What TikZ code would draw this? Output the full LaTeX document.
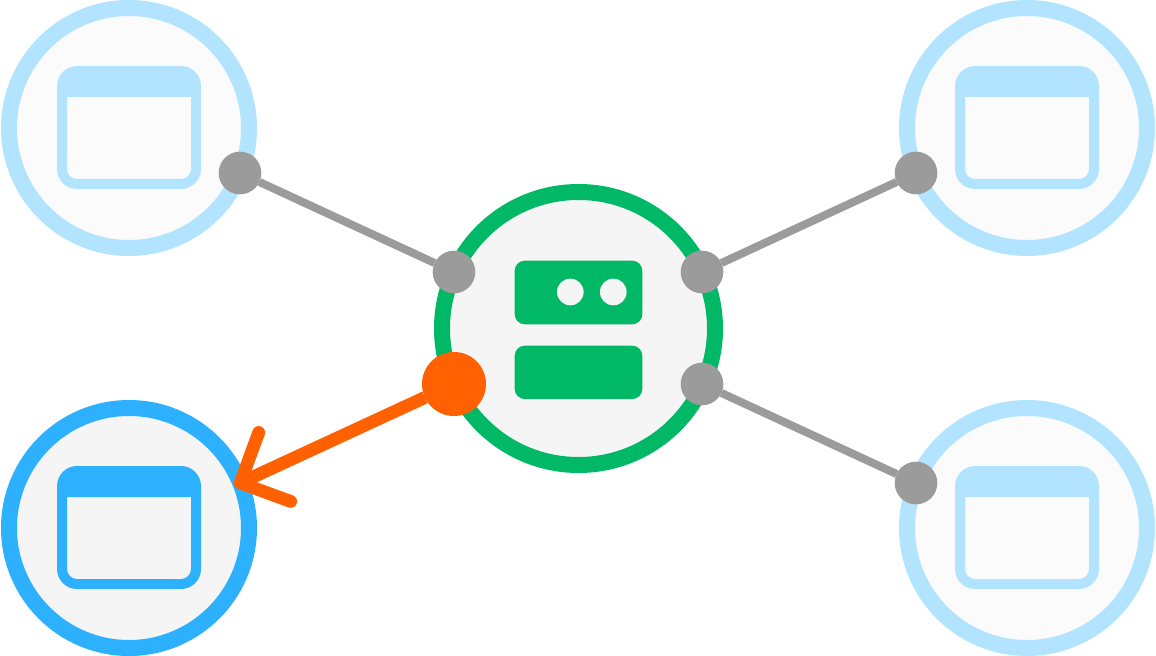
\documentclass[tikz,border=0pt]{standalone}
\usetikzlibrary{arrows.meta}
\definecolor{paleblue}{HTML}{B3E4FF}
\definecolor{paper}{HTML}{FBFBFC}
\definecolor{clientblue}{HTML}{2DB1FF}
\definecolor{soft}{HTML}{F5F5F5}
\definecolor{servergreen}{HTML}{00B865}
\definecolor{hot}{HTML}{FF6000}
\definecolor{link}{HTML}{9B9B9B}
\pgfdeclarelayer{rings}
\pgfdeclarelayer{links}
\pgfsetlayers{rings,links,main}
\tikzset{
  x=0.75pt,y=-0.75pt,
  ring/.style={circle,inner sep=0pt,outer sep=0pt,minimum size=180pt,line width=12pt},
  idle/.style={ring,draw=paleblue,fill=paper},
  active/.style={ring,draw=clientblue,fill=soft},
  hub/.style={ring,draw=servergreen,fill=soft,minimum size=204.75pt},
  port/.style={circle,inner sep=0pt,outer sep=0pt,minimum size=32pt,fill=link},
  hotport/.style={circle,inner sep=0pt,outer sep=0pt,minimum size=48pt,fill=hot},
  linkline/.style={draw=link,line width=6pt},
  hotline/.style={draw=hot,line width=9.6pt,-{Straight Barb[round,length=28.5pt,width=57pt]}},
  windowicon/.pic={
    \fill[pic actions,even odd rule]
      [rounded corners=15pt] (-72,-61.5) rectangle (72,61.5)
      [sharp corners] (-62,-30.5) -- (62,-30.5) -- (62,41.5)
      arc[start angle=0,end angle=90,radius=10] -- (-52,51.5)
      arc[start angle=90,end angle=180,radius=10] -- cycle;
  }
}
\begin{document}
\begin{tikzpicture}
\useasboundingbox (0,0) rectangle (1156,656);
\begin{pgfonlayer}{rings}
  \node[idle] (c1) at (129,128) {};
  \node[active] (c2) at (129,528) {};
  \node[idle] (c3) at (1027,128) {};
  \node[idle] (c4) at (1027,528) {};
  \node[hub] (s) at (578.5,328.5) {};
  \pic[fill=paleblue] at (129,127.5) {windowicon};
  \pic[fill=clientblue] at (129,527.5) {windowicon};
  \pic[fill=paleblue] at (1027,127.5) {windowicon};
  \pic[fill=paleblue] at (1027,527.5) {windowicon};
  \fill[servergreen,rounded corners=7.5pt] (514.7,260.7) rectangle (642.3,324.3);
  \fill[servergreen,rounded corners=7.5pt] (514.7,345.7) rectangle (642.3,399);
  \fill[soft] (570.3,292) circle[radius=10pt] (613.3,292) circle[radius=10pt];
\end{pgfonlayer}
\node[port] (p1) at (240,173) {};
\node[port] (p3) at (916,173) {};
\node[port] (p4) at (916,483) {};
\node[port] (h1) at (454,272) {};
\node[port] (h3) at (702,272) {};
\node[port] (h4) at (702,384) {};
\node[hotport] (h2) at (454,384) {};
\coordinate (tip) at (234.4,485.6);
\begin{pgfonlayer}{links}
  \draw[linkline] (p1) -- (h1);
  \draw[linkline] (p3) -- (h3);
  \draw[linkline] (p4) -- (h4);
  \draw[hotline] (h2) -- (tip);
\end{pgfonlayer}
\end{tikzpicture}
\end{document}
